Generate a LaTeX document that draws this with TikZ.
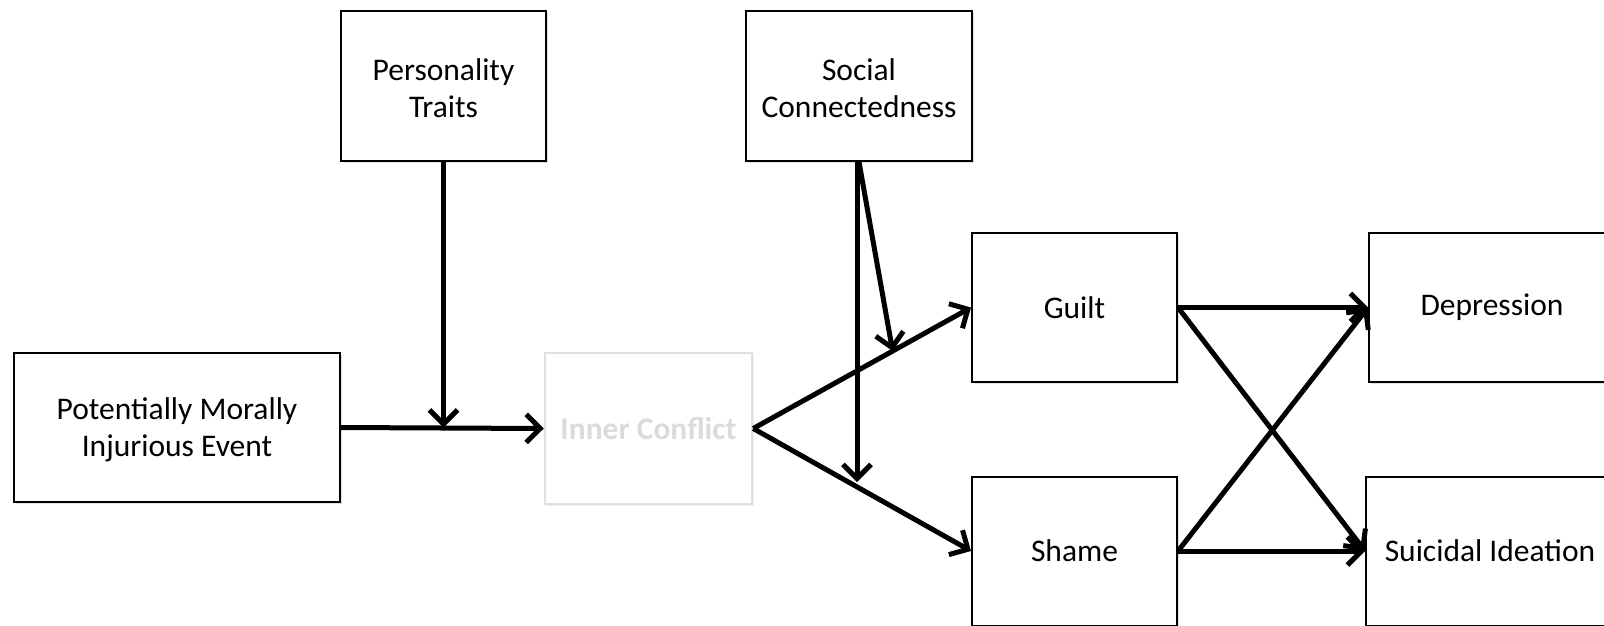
\documentclass[tikz,border=0pt]{standalone}
\usepackage{fontspec}
\setmainfont{Carlito}
\usetikzlibrary{arrows.meta,shadows,calc}
\begin{document}
\begin{tikzpicture}[x=1pt,y=-1pt,
  box/.style={draw=black,line width=2pt,fill=white,align=center,inner sep=0pt,
    font=\fontsize{31.5}{37}\selectfont,
    drop shadow={shadow xshift=2pt,shadow yshift=-2pt,fill=black!20,opacity=0.6}},
  faint/.style={draw=black!12,line width=2.5pt,fill=white,align=center,inner sep=0pt,
    text=black!14,font=\fontsize{31.5}{37}\selectfont\bfseries,
    drop shadow={shadow xshift=2pt,shadow yshift=-2pt,fill=black!12,opacity=0.5}},
  link/.style={line width=5pt,-{Straight Barb[length=14pt,width=28pt]}}]
\useasboundingbox (0,0) rectangle (1604,625);
\begin{scope}
\clip (0,0) rectangle (1604,625);
\node[box,minimum width=205pt,minimum height=150pt] (pt) at (443.5,86) {\strut Personality\\Traits};
\node[box,minimum width=226pt,minimum height=150pt] (sc) at (859,86) {\strut Social\\Connectedness};
\node[box,minimum width=326pt,minimum height=149pt] (pmie) at (177,427.5) {\strut Potentially Morally\\Injurious Event};
\node[faint,minimum width=207pt,minimum height=151pt] (ic) at (648.5,428.5) {Inner Conflict};
\node[box,minimum width=205pt,minimum height=149pt] (guilt) at (1074.5,307.5) {Guilt};
\node[box,minimum width=205pt,minimum height=149pt] (shame) at (1074.5,551) {Shame};
\node[box,minimum width=246pt,minimum height=149pt] (dep) at (1492,307.5) {Depression};
\node[box,minimum width=248pt,minimum height=149pt] (si) at (1490,551) {Suicidal Ideation};
\end{scope}
\coordinate (pm) at (pt.south |- pmie.east);
\coordinate (gm) at ($(ic.east)!0.64!(guilt.west)$);
\coordinate (sm) at ($(sc.south)+(-2,320)$);
\draw[link] (pmie.east) -- (ic.west);
\draw[link] (pt.south) -- (pm);
\draw[link] (ic.east) -- (guilt.west);
\draw[link] (ic.east) -- (shame.west);
\draw[link] ($(sc.south)+(-2,0)$) -- (sm);
\draw[link] (sc.south) -- (gm);
\draw[link] (guilt.east) -- (dep.west);
\draw[link] (guilt.east) -- (si.west);
\draw[link] (shame.east) -- (dep.west);
\draw[link] (shame.east) -- (si.west);
\end{tikzpicture}
\end{document}
